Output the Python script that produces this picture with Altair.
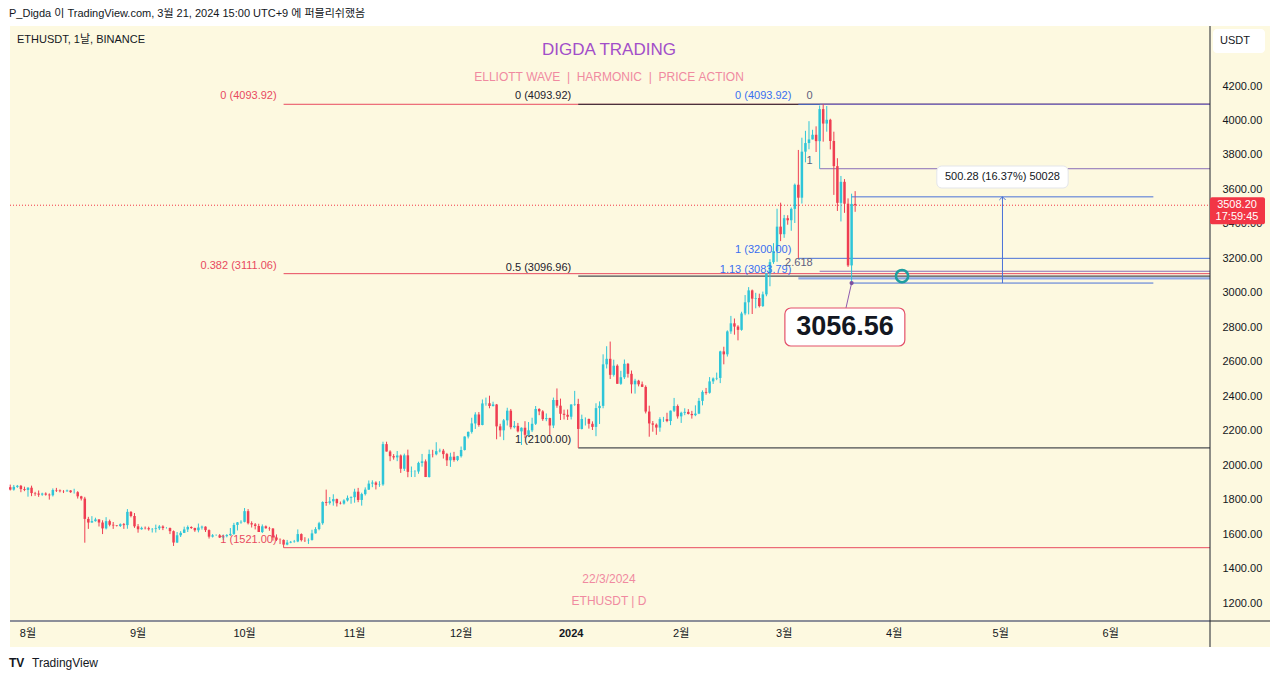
import altair as alt
import pandas as pd
import numpy as np

FONT = "Liberation Sans, Noto Sans CJK KR, sans-serif"
W, H = 1200, 595
UP, DOWN = "#2ec5d8", "#ef3e52"
BG = "#fdf9e0"
NB = "\u00a0"

# ---------------- candle data (ETHUSDT daily, 2023-07-27 .. 2024-03-21) ----------------
first_open = 1872.0
closes = [
    1858, 1874, 1880, 1861, 1856,
    1869, 1838, 1835, 1829, 1835, 1829, 1825, 1856, 1853, 1849, 1848, 1853, 1843, 1843, 1819, 1806,
    1688, 1667, 1675, 1685, 1667, 1633, 1675, 1654, 1650, 1647, 1657, 1652, 1729, 1705, 1645,
    1628, 1636, 1634, 1628, 1630, 1634, 1644, 1635, 1635, 1617, 1551, 1593, 1607, 1627, 1641,
    1635, 1622, 1638, 1643, 1623, 1585, 1593, 1593, 1580, 1588, 1594, 1601, 1653, 1668, 1671,
    1733, 1663, 1656, 1647, 1612, 1645, 1634, 1632, 1580, 1567, 1566, 1539, 1551, 1555, 1557,
    1600, 1565, 1564, 1566, 1604, 1629, 1663, 1786, 1781, 1790, 1803, 1779, 1777, 1795, 1810, 1814,
    1846, 1798, 1832, 1858, 1893, 1899, 1886, 1888, 2122, 2079, 2052, 2045, 2056, 1979, 2057,
    1961, 1962, 1963, 2013, 2022, 1931, 2064, 2063, 2081, 2084, 2064, 2028, 2049, 2030, 2052,
    2088, 2166, 2193, 2242, 2294, 2233, 2358, 2359, 2343, 2352, 2225, 2202, 2260, 2316, 2220,
    2228, 2196, 2217, 2176, 2202, 2240, 2326, 2312, 2267, 2273, 2230, 2378, 2345, 2298, 2292, 2281,
    2352, 2355, 2210, 2268, 2268, 2240, 2222, 2331, 2344, 2585, 2617, 2524, 2577, 2472, 2510,
    2588, 2530, 2469, 2490, 2469, 2454, 2311, 2242, 2235, 2218, 2267, 2267, 2256, 2316, 2343, 2283,
    2304, 2309, 2297, 2290, 2299, 2373, 2425, 2420, 2486, 2503, 2506, 2660, 2643, 2776, 2823,
    2804, 2785, 2880, 2945, 3014, 2966, 2970, 2923, 2991, 3112, 3178, 3243, 3384, 3340,
    3433, 3421, 3487, 3627, 3552, 3819, 3869, 3890, 3917, 3880, 4066, 3982, 4004, 3881, 3735,
    3522, 3644, 3517, 3159, 3516, 3508.2,
]
highs = [
    1887, 1885, 1885, 1885, 1875,
    1872, 1881, 1845, 1853, 1840, 1842, 1836, 1865, 1868, 1859, 1855, 1858, 1855, 1863, 1849, 1822,
    1816, 1700, 1704, 1695, 1686, 1680, 1698, 1684, 1670, 1652, 1662, 1664, 1745, 1733, 1722,
    1658, 1643, 1644, 1643, 1635, 1655, 1652, 1651, 1640, 1638, 1621, 1612, 1617, 1643, 1650,
    1645, 1637, 1661, 1649, 1645, 1627, 1600, 1598, 1600, 1598, 1600, 1635, 1665, 1670, 1680,
    1751, 1745, 1674, 1664, 1660, 1656, 1650, 1642, 1635, 1598, 1575, 1569, 1566, 1560, 1566,
    1627, 1604, 1582, 1575, 1625, 1640, 1671, 1790, 1858, 1815, 1831, 1806, 1789, 1802, 1824, 1819,
    1863, 1868, 1840, 1871, 1911, 1912, 1906, 1907, 2136, 2136, 2086, 2064, 2082, 2062, 2067,
    2090, 1992, 1971, 2020, 2065, 2033, 2090, 2089, 2133, 2096, 2094, 2071, 2072, 2077, 2054,
    2108, 2167, 2195, 2275, 2307, 2308, 2381, 2392, 2403, 2368, 2355, 2240, 2268, 2333, 2326,
    2256, 2245, 2219, 2255, 2250, 2275, 2343, 2330, 2319, 2300, 2275, 2392, 2445, 2386, 2322, 2323,
    2353, 2431, 2385, 2293, 2277, 2270, 2254, 2359, 2370, 2643, 2690, 2717, 2612, 2585, 2547,
    2613, 2593, 2549, 2501, 2495, 2485, 2463, 2345, 2256, 2242, 2278, 2280, 2304, 2317, 2390, 2352,
    2310, 2330, 2325, 2315, 2347, 2390, 2434, 2448, 2511, 2509, 2537, 2664, 2687, 2782, 2866,
    2851, 2812, 2890, 2987, 3033, 3019, 3000, 2995, 3007, 3113, 3195, 3288, 3488, 3523,
    3452, 3450, 3495, 3634, 3829, 3900, 3940, 3996, 3946, 3966, 4087, 4093.92, 4084, 4010, 3935,
    3781, 3678, 3660, 3548, 3575, 3590,
]
lows = [
    1853, 1852, 1868, 1843, 1849,
    1817, 1820, 1822, 1816, 1822, 1823, 1800, 1818, 1844, 1842, 1838, 1846, 1839, 1835, 1806, 1795,
    1550, 1630, 1666, 1672, 1644, 1600, 1627, 1645, 1630, 1644, 1641, 1630, 1631, 1697, 1636,
    1608, 1625, 1627, 1620, 1609, 1609, 1624, 1623, 1632, 1600, 1531, 1548, 1583, 1606, 1612,
    1630, 1613, 1610, 1626, 1612, 1574, 1580, 1590, 1577, 1566, 1581, 1589, 1595, 1621, 1660,
    1668, 1656, 1638, 1627, 1612, 1606, 1631, 1619, 1562, 1560, 1542, 1521, 1535, 1547, 1550,
    1553, 1557, 1554, 1543, 1562, 1603, 1622, 1654, 1764, 1771, 1765, 1760, 1772, 1771, 1789, 1776,
    1782, 1785, 1765, 1824, 1856, 1872, 1859, 1874, 1880, 2079, 2023, 2032, 2023, 1955, 1966,
    1930, 1931, 1931, 1950, 1991, 1931, 1928, 2045, 2057, 2074, 2038, 1995, 1990, 2020, 2023,
    2044, 2085, 2155, 2183, 2210, 2223, 2231, 2345, 2330, 2340, 2150, 2165, 2145, 2230, 2208,
    2213, 2190, 2117, 2157, 2167, 2192, 2233, 2290, 2257, 2255, 2173, 2215, 2333, 2262, 2265, 2262,
    2265, 2344, 2100, 2207, 2230, 2212, 2204, 2168, 2239, 2330, 2561, 2500, 2514, 2474, 2466,
    2500, 2508, 2416, 2415, 2457, 2453, 2300, 2165, 2194, 2176, 2194, 2251, 2249, 2232, 2308, 2270,
    2245, 2290, 2294, 2270, 2284, 2296, 2347, 2409, 2415, 2471, 2493, 2476, 2585, 2630, 2762,
    2757, 2724, 2780, 2870, 2875, 2877, 2910, 2915, 2918, 2980, 3038, 3168, 3180, 3300,
    3319, 3395, 3360, 3405, 3200, 3518, 3757, 3833, 3890, 3817, 3720, 3877, 3935, 3832, 3568,
    3475, 3414, 3464, 3150, 3056.56, 3470,
]

# ---------------- axis ticks ----------------
x_tick_dates = ["2023-08-01", "2023-09-01", "2023-10-01", "2023-11-01", "2023-12-01", "2024-01-01",
                "2024-02-01", "2024-03-01", "2024-04-01", "2024-05-01", "2024-06-01"]
x_tick_labels = ["8월", "9월", "10월", "11월", "12월", "2024", "2월", "3월", "4월", "5월", "6월"]
x_tick_bold = [False] * 5 + [True] + [False] * 5
y_ticks = [1200, 1400, 1600, 1800, 2000, 2200, 2400, 2600, 2800, 3000, 3200, 3400, 3600, 3800, 4000, 4200]

# ---------------- fibonacci tools ----------------
fib_prices = [4093.92, 3111.06, 1521.00, 4093.92, 3096.96, 2100.00, 4093.92, 3200.00, 3083.79, 4093.92, 3720.00, 3125.00]
fib_starts = ["2023-10-12"] * 3 + ["2024-01-03"] * 3 + ["2024-03-05"] * 3 + ["2024-03-11"] * 3
fib_texts = ["0 (4093.92)", "0.382 (3111.06)", "1 (1521.00)",
             "0 (4093.92)", "0.5 (3096.96)", "1 (2100.00)",
             "0 (4093.92)", "1 (3200.00)", "1.13 (3083.79)",
             "0", "1", "2.618"]
fib_line_colors = ["#e84a5f"] * 3 + ["#1e222d"] * 3 + ["#4a72d8", "#4a72d8", "#8fa8e6"] + ["#8a6fb8"] * 3
fib_text_colors = ["#e84a5f"] * 3 + ["#1e222d"] * 3 + ["#3a6ff0"] * 3 + ["#5e5f7e"] * 3
fib_widths = [1, 1, 1, 1, 1, 1, 1, 1, 2.2, 1, 1, 1]

# ---------------- measurement / annotations ----------------
last_price = 3508.20
measure_dates = ["2024-03-20", "2024-06-13"]
measure_prices = [3056.56, 3556.84]
measure_mid = "2024-05-01T12:00:00Z"
measure_box = ["2024-04-13", "2024-05-20", 3735.8, 3608.1]
measure_text = "500.28 (16.37%) 50028"
circle_point = ["2024-04-03T05:00:00Z", 3096.96]
low_point = ["2024-03-20", 3056.56]
low_box = ["2024-03-01T05:00:00Z", "2024-04-04", 2911.8, 2691.3]
low_text_pos = ["2024-03-18T03:00:00Z", 2801.5]
low_pointer_end = ["2024-03-18T10:00:00Z", 2911.8]
low_text = "3056.56"


def iso(d):
    return d if "T" in d else d + "T00:00:00Z"


# ---------------- frames ----------------
dates = pd.date_range("2023-07-27", periods=len(closes), freq="D")
opens = [first_open] + closes[:-1]
df = pd.DataFrame({
    "date": dates.strftime("%Y-%m-%dT00:00:00Z"),
    "open": opens, "high": highs, "low": lows, "close": closes,
})
df["high"] = df[["high", "open", "close"]].max(axis=1)
df["low"] = df[["low", "open", "close"]].min(axis=1)
df["dir"] = np.where(df["close"] >= df["open"], "up", "down")

fib_df = pd.DataFrame({
    "start": [iso(d) for d in fib_starts], "price": fib_prices, "text": fib_texts,
    "lc": fib_line_colors, "tc": fib_text_colors, "w": fib_widths,
})

x_lo = pd.Timestamp("2023-07-26 22:19", tz="UTC").value // 10**6
x_hi = pd.Timestamp("2024-06-28 23:00", tz="UTC").value // 10**6
xs = alt.Scale(type="utc", domain=[x_lo, x_hi])
ys = alt.Scale(domain=[1095.6, 4548.2], nice=False, zero=False)
yaxis = alt.Axis(orient="right", values=y_ticks, format=".2f", domain=False, ticks=False, grid=False,
                 labelPadding=12, labelFont=FONT, labelFontSize=11, labelColor="#131722", title=None,
                 labelOverlap=False)


def X(f):
    return alt.X(f + ":T", scale=xs, axis=None)


def Y(f):
    return alt.Y(f + ":Q", scale=ys, axis=yaxis)


one = pd.DataFrame({"k": [0]})


def px_rect(x0, x1, y0, y1, color, **kw):
    return alt.Chart(one).mark_rect(color=color, **kw).encode(
        x=alt.value(x0), x2=alt.value(x1), y=alt.value(y0), y2=alt.value(y1))


def px_rule(x0, x1, y0, y1, color, width=1):
    return alt.Chart(one).mark_rule(color=color, strokeWidth=width).encode(
        x=alt.value(x0), x2=alt.value(x1), y=alt.value(y0), y2=alt.value(y1))


def px_text(txt, x, y, size, color, align="left", weight="normal"):
    return alt.Chart(one).mark_text(text=txt, align=align, baseline="middle", fontSize=size, color=color,
                                    font=FONT, fontWeight=weight).encode(x=alt.value(x), y=alt.value(y))


layers = []
# outside-of-panel white areas
layers += [px_rect(-2, 1262, -18, 0, "white"), px_rect(-2, 1262, 621, 647, "white"),
           px_rect(-2, 0, 0, 621, "white"), px_rect(1260, 1262, 0, 621, "white")]
# watermark texts
layers += [px_text("22/3/2024", 599, 553, 12, "#f08aa0", "center"),
           px_text("ETHUSDT | D", 599, 575, 12, "#f08aa0", "center")]

# current price dotted line
lp = pd.DataFrame({"p": [last_price]})
layers.append(alt.Chart(lp).mark_rule(color="#f23645", strokeDash=[1, 2], strokeWidth=1).encode(
    x=alt.value(0), x2=alt.value(W), y=Y("p")))

# fib lines
layers.append(alt.Chart(fib_df).mark_rule().encode(
    x=X("start"), x2=alt.value(W), y=Y("price"),
    color=alt.Color("lc:N", scale=None), strokeWidth=alt.StrokeWidth("w:Q", scale=None)))

# candles
cscale = alt.Scale(domain=["up", "down"], range=[UP, DOWN])
layers.append(alt.Chart(df).mark_rule(strokeWidth=1).encode(
    x=X("date"), y=Y("low"), y2="high", color=alt.Color("dir:N", scale=cscale, legend=None)))
layers.append(alt.Chart(df).mark_rule(strokeWidth=2.5).encode(
    x=X("date"), y=Y("open"), y2="close", color=alt.Color("dir:N", scale=cscale, legend=None)))

# measurement tool
mdf = pd.DataFrame({"d0": [iso(measure_dates[0])] * 2, "d1": [iso(measure_dates[1])] * 2, "p": measure_prices})
layers.append(alt.Chart(mdf).mark_rule(color="#4a72d8", strokeWidth=1).encode(x=X("d0"), x2="d1", y=Y("p")))
marr = pd.DataFrame({"d": [measure_mid], "p0": [measure_prices[0]], "p1": [measure_prices[1]]})
layers.append(alt.Chart(marr).mark_rule(color="#4a72d8", strokeWidth=1).encode(x=X("d"), y=Y("p0"), y2="p1"))
layers.append(alt.Chart(marr).mark_point(shape="M -1 1 L 0 0 L 1 1", filled=False, size=40, color="#4a72d8",
                                         strokeWidth=1, opacity=1).encode(x=X("d"), y=Y("p1")))
mbox = pd.DataFrame({"a": [iso(measure_box[0])], "b": [iso(measure_box[1])], "t": [measure_box[2]],
                     "u": [measure_box[3]], "m": [measure_mid], "c": [(measure_box[2] + measure_box[3]) / 2]})
layers.append(alt.Chart(mbox).mark_rect(fill="white", stroke="#e3e5ea", strokeWidth=1, cornerRadius=5).encode(
    x=X("a"), x2="b", y=Y("t"), y2="u"))
layers.append(alt.Chart(mbox).mark_text(text=measure_text, font=FONT, fontSize=11, color="#131722",
                                        baseline="middle").encode(x=X("m"), y=Y("c")))

# circle
cdf = pd.DataFrame({"d": [circle_point[0]], "p": [circle_point[1]]})
layers.append(alt.Chart(cdf).mark_point(shape="circle", filled=False, size=150, strokeWidth=2.6,
                                        color="#1f9ea0", opacity=1).encode(x=X("d"), y=Y("p")))

# low pointer & label
ptr = pd.DataFrame({"a": [iso(low_point[0])], "pa": [low_point[1]], "b": [low_pointer_end[0]], "pb": [low_pointer_end[1]]})
layers.append(alt.Chart(ptr).mark_rule(color="#8e5bb0", strokeWidth=1).encode(x=X("a"), x2="b", y=Y("pa"), y2="pb"))
layers.append(alt.Chart(ptr).mark_point(shape="circle", filled=True, size=18, color="#7b4fa0", opacity=1).encode(
    x=X("a"), y=Y("pa")))
lbox = pd.DataFrame({"a": [low_box[0]], "b": [iso(low_box[1])], "t": [low_box[2]], "u": [low_box[3]],
                     "m": [low_text_pos[0]], "c": [low_text_pos[1]]})
layers.append(alt.Chart(lbox).mark_rect(fill="white", stroke="#e4516a", strokeWidth=1.2, cornerRadius=6).encode(
    x=X("a"), x2="b", y=Y("t"), y2="u"))
layers.append(alt.Chart(lbox).mark_text(text=low_text, font=FONT, fontSize=27, fontWeight="bold", color="#131722",
                                        baseline="middle").encode(x=X("m"), y=Y("c")))

# fib labels
layers.append(alt.Chart(fib_df).mark_text(align="right", baseline="bottom", dx=-7, dy=-3, font=FONT, fontSize=11).encode(
    x=X("start"), y=Y("price"), text="text:N", color=alt.Color("tc:N", scale=None)))

# titles
sep = NB + NB + "|" + NB + NB
layers += [px_text("ETHUSDT, 1날, BINANCE", 7, 14, 11, "#131722"),
           px_text("DIGDA TRADING", 599, 24, 17, "#a24ec9", "center"),
           px_text("ELLIOTT" + NB + "WAVE" + sep + "HARMONIC" + sep + "PRICE" + NB + "ACTION",
                   599, 51, 12, "#f08aa0", "center")]

# panel separators
layers += [px_rule(0, 1200, 595, 595, "#8c8f99", 2), px_rule(1200, 1260, 595, 595, "#1e222d", 1),
           px_rule(1200, 1200, 0, 621, "#1e222d", 1)]

# price tag
layers.append(alt.Chart(lp).mark_rect(color="#f23645", yOffset=-8, y2Offset=19, cornerRadius=2).encode(
    x=alt.value(1200), x2=alt.value(1255), y=Y("p"), y2="p"))
layers.append(alt.Chart(lp).mark_text(text="3508.20", font=FONT, fontSize=11, color="white", baseline="middle").encode(
    x=alt.value(1227), y=Y("p")))
layers.append(alt.Chart(lp).mark_text(text="17:59:45", font=FONT, fontSize=11, color="white", baseline="middle",
                                      dy=12).encode(x=alt.value(1227), y=Y("p")))

# USDT box
layers += [px_rect(1203, 1255, 3, 27, "white", cornerRadius=4), px_text("USDT", 1225, 15, 11, "#131722", "center")]

# x labels
xl = pd.DataFrame({"d": [iso(d) for d in x_tick_dates], "t": x_tick_labels, "b": x_tick_bold})
for is_bold in (False, True):
    sub = xl[xl["b"] == is_bold][["d", "t"]]
    layers.append(alt.Chart(sub).mark_text(font=FONT, fontSize=11, color="#131722", baseline="middle",
                                           fontWeight="bold" if is_bold else "normal").encode(
        x=X("d"), y=alt.value(608), text="t:N"))

# header & footer
layers += [px_text("P_Digda 이 TradingView.com, 3월 21, 2024 15:00 UTC+9 에 퍼블리쉬했음", -1, -12, 11, "#131722"),
           px_text("TV", -1, 637, 12, "#131722", "left", "bold"),
           px_text("TradingView", 22, 637, 12, "#131722")]

chart = alt.layer(*layers).properties(
    width=W, height=H,
    autosize=alt.AutoSizeParams(type="none"),
    padding={"left": 2, "top": 18, "right": 62, "bottom": 52},
    background=BG,
).configure_view(stroke=None)

chart.save("out.html", embed_options={"renderer": "svg", "actions": False})
